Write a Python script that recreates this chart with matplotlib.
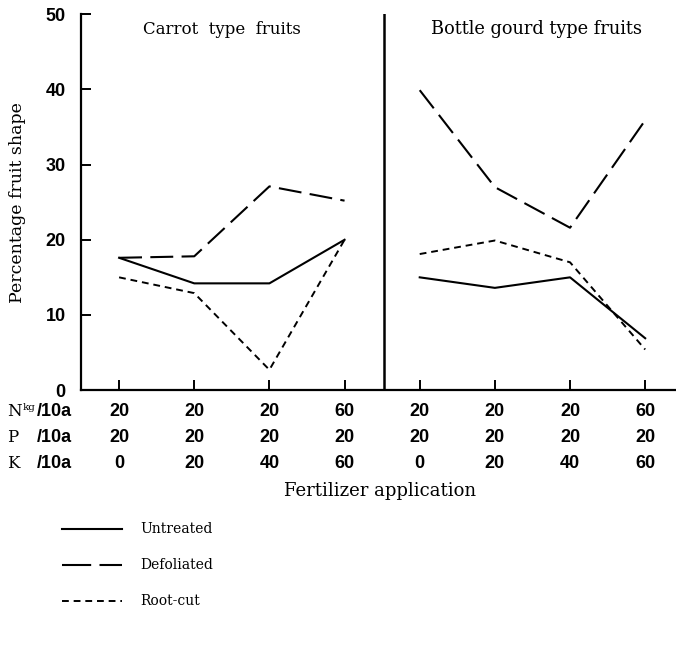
import matplotlib.pyplot as plt

# data
x_pos = [0, 1, 2, 3]
x_pos2 = [4, 5, 6, 7]
carrot_untreated = [17.6, 14.2, 14.2, 20.0]
carrot_defoliated = [17.6, 17.8, 27.1, 25.2]
carrot_rootcut = [15.0, 12.9, 2.7, 20.0]
gourd_untreated = [15.0, 13.6, 15.0, 6.9]
gourd_defoliated = [39.9, 27.0, 21.6, 35.9]
gourd_rootcut = [18.1, 19.9, 17.0, 5.4]
n_row = ["20", "20", "20", "60", "20", "20", "20", "60"]
p_row = ["20", "20", "20", "20", "20", "20", "20", "20"]
k_row = ["0", "20", "40", "60", "0", "20", "40", "60"]

serif = "DejaVu Serif"
num = ["Liberation Sans Narrow", "Liberation Sans"]

fig = plt.figure(figsize=(6.76, 6.48), dpi=100)
ax = fig.add_axes([0.1198, 0.398, 0.8802, 0.58])

solid = dict(color="black", lw=1.5, linestyle="-")
longd = dict(color="black", lw=1.5, linestyle=(0, (11, 4)))
shortd = dict(color="black", lw=1.4, linestyle=(0, (3.5, 2.5)))

ax.plot(x_pos, carrot_untreated, **solid)
ax.plot(x_pos, carrot_defoliated, **longd)
ax.plot(x_pos, carrot_rootcut, **shortd)
ax.plot(x_pos2, gourd_untreated, **solid)
ax.plot(x_pos2, gourd_defoliated, **longd)
ax.plot(x_pos2, gourd_rootcut, **shortd)

ax.axvline(3.53, color="black", lw=1.8)

ax.set_xlim(-0.507, 7.41)
ax.set_ylim(0, 50)
ax.spines["top"].set_visible(False)
ax.spines["right"].set_visible(False)
ax.spines["left"].set_linewidth(1.6)
ax.spines["bottom"].set_linewidth(1.6)
ax.set_xticks(x_pos + x_pos2)
ax.set_xticklabels([])
ax.set_yticks([0, 10, 20, 30, 40, 50])
ax.tick_params(axis="both", direction="in", length=7, width=1.4)
ax.tick_params(axis="y", labelsize=13, pad=11)
for lbl in ax.get_yticklabels():
    lbl.set_fontfamily(num)
    lbl.set_fontweight("bold")

ax.set_ylabel("Percentage fruit shape", fontsize=12.5, family=serif, labelpad=14)
ax.text(1.37, 48, "Carrot  type  fruits", ha="center", va="center", fontsize=12, family=serif)
ax.text(5.55, 48, "Bottle gourd type fruits", ha="center", va="center", fontsize=12.8, family=serif)

# fertilizer table under the axis
row_y = [412, 438, 464]
for row, yy in zip([n_row, p_row, k_row], row_y):
    for i, val in enumerate(row):
        xd = ax.transData.transform((i, 0))[0]
        fig.text(xd / 676, 1 - yy / 648, val, ha="center", va="center",
                 fontsize=13, family=num, fontweight="bold")

fig.text(7 / 676, 1 - 412 / 648, "N", ha="left", va="center", fontsize=12, family=serif)
fig.text(23 / 676, 1 - 407 / 648, "kg", ha="left", va="center", fontsize=7.5, family=serif)
fig.text(37 / 676, 1 - 412 / 648, "/10a", ha="left", va="center", fontsize=13, family=num, fontweight="bold")
fig.text(7 / 676, 1 - 438 / 648, "P", ha="left", va="center", fontsize=12, family=serif)
fig.text(37 / 676, 1 - 438 / 648, "/10a", ha="left", va="center", fontsize=13, family=num, fontweight="bold")
fig.text(7 / 676, 1 - 464 / 648, "K", ha="left", va="center", fontsize=12, family=serif)
fig.text(37 / 676, 1 - 464 / 648, "/10a", ha="left", va="center", fontsize=13, family=num, fontweight="bold")

fig.text(380 / 676, 1 - 491 / 648, "Fertilizer application", ha="center", va="center",
         fontsize=13, family=serif)

# legend drawn by hand
leg_ax = fig.add_axes([0, 0, 1, 1], facecolor="none")
leg_ax.set_xlim(0, 676)
leg_ax.set_ylim(648, 0)
leg_ax.axis("off")
names = ["Untreated", "Defoliated", "Root-cut"]
styles = [solid, dict(color="black", lw=1.5, linestyle=(0, (14, 4))), shortd]
for name, st, yy in zip(names, styles, [529, 565, 601]):
    leg_ax.plot([62, 122], [yy, yy], **st)
    leg_ax.text(140, yy, name, ha="left", va="center", fontsize=10, family=serif)

fig.savefig("out.png", dpi=100)
